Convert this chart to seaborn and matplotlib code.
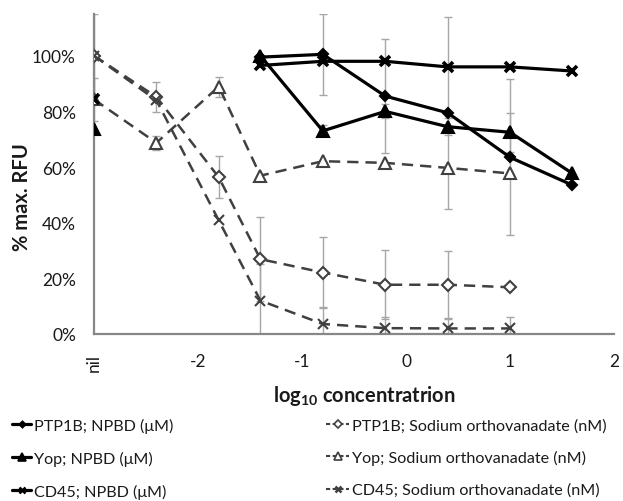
import numpy as np
import pandas as pd
import matplotlib
matplotlib.use("Agg")
import matplotlib.pyplot as plt
import seaborn as sns
from matplotlib.lines import Line2D
from matplotlib.ticker import FuncFormatter

nan = np.nan

# ---- data ----
x_tick_values = [-3, -2, -1, 0, 1, 2]
x_tick_labels = ["nil", "-2", "-1", "0", "1", "2"]
y_tick_values = [0, 0.2, 0.4, 0.6, 0.8, 1.0]

conc_sodium = [-3, -2.4, -1.8, -1.4, -0.8, -0.2, 0.4, 1.0]
conc_npbd = [-3, -1.4, -0.8, -0.2, 0.4, 1.0, 1.6]

ptp1b_npbd = [nan, 0.995, 1.005, 0.855, 0.795, 0.635, 0.535]
ptp1b_npbd_err = [0, 0, 0.145, 0.205, 0.345, 0.28, 0]
yop_npbd = [0.735, 1.0, 0.73, 0.80, 0.745, 0.725, 0.577]
yop_npbd_err = [0, 0, 0.02, 0.025, 0.03, 0.07, 0]
cd45_npbd = [0.843, 0.965, 0.98, 0.98, 0.96, 0.96, 0.945]
cd45_npbd_err = [0.076, 0, 0, 0, 0, 0, 0]

ptp1b_sov = [1.0, 0.852, 0.563, 0.269, 0.221, 0.177, 0.177, 0.168]
ptp1b_sov_err = [0.15, 0.054, 0.076, 0.15, 0.126, 0.124, 0.12, 0]
yop_sov = [0.843, 0.687, 0.889, 0.569, 0.621, 0.615, 0.597, 0.577]
yop_sov_err = [0, 0.025, 0.036, 0, 0, 0, 0, 0]
cd45_sov = [1.0, 0.84, 0.408, 0.12, 0.036, 0.021, 0.02, 0.02]
cd45_sov_err = [0, 0, 0, 0.13, 0.06, 0.04, 0.035, 0.04]

labels = [
    "PTP1B; NPBD (\u03bcM)",
    "Yop; NPBD (\u03bcM)",
    "CD45; NPBD (\u03bcM)",
    "PTP1B; Sodium orthovanadate (nM)",
    "Yop; Sodium orthovanadate (nM)",
    "CD45; Sodium orthovanadate (nM)",
]

# ---- style ----
sns.set_style("white")
plt.rcParams["font.family"] = ["Lato", "DejaVu Sans"]
plt.rcParams["mathtext.fontset"] = "custom"
plt.rcParams["mathtext.rm"] = "Lato:bold"
plt.rcParams["mathtext.bf"] = "Lato:bold"
plt.rcParams["mathtext.default"] = "bf"

W, H = 623, 502
fig = plt.figure(figsize=(W / 100, H / 100), dpi=100)
ax = fig.add_axes([94 / W, 1 - 335 / H, (614 - 94) / W, (335 - 15) / H])

BLACK = "#000000"
DGRAY = "#404040"
EGRAY = "#a6a6a6"
AXC = "#878787"
TXT = "#1a1a1a"

series = [
    dict(x=conc_npbd, y=ptp1b_npbd, e=ptp1b_npbd_err, c=BLACK, m="D", ms=5, mfc=BLACK, dash=False, lab=labels[0]),
    dict(x=conc_npbd, y=yop_npbd, e=yop_npbd_err, c=BLACK, m="^", ms=8, mfc=BLACK, dash=False, lab=labels[1]),
    dict(x=conc_npbd, y=cd45_npbd, e=cd45_npbd_err, c=BLACK, m="x", ms=7, mfc=BLACK, dash=False, lab=labels[2]),
    dict(x=conc_sodium, y=ptp1b_sov, e=ptp1b_sov_err, c=DGRAY, m="D", ms=6, mfc="white", dash=True, lab=labels[3]),
    dict(x=conc_sodium, y=yop_sov, e=yop_sov_err, c=DGRAY, m="^", ms=9, mfc="white", dash=True, lab=labels[4]),
    dict(x=conc_sodium, y=cd45_sov, e=cd45_sov_err, c=DGRAY, m="x", ms=7, mfc="white", dash=True, lab=labels[5]),
]

# error bars (behind)
for s in series:
    xs = np.array(s["x"], float)
    ys = np.array(s["y"], float)
    es = np.array(s["e"], float)
    ok = (~np.isnan(ys)) & (es > 0)
    ax.errorbar(xs[ok], ys[ok], yerr=es[ok], fmt="none", ecolor=EGRAY,
                elinewidth=1.0, capsize=3, capthick=1.0, zorder=1)

for i, s in enumerate(series):
    df = pd.DataFrame({"conc": s["x"], "val": s["y"]}).dropna()
    lw = 2.3 if not s["dash"] else 1.8
    mew = 1.5 if s["m"] != "x" else (2.6 if not s["dash"] else 1.5)
    kw = dict(color=s["c"], marker=s["m"], markersize=s["ms"], markerfacecolor=s["mfc"],
              markeredgecolor=s["c"], markeredgewidth=mew, linewidth=lw, ax=ax,
              sort=False, errorbar=None, zorder=3 + (0 if s["dash"] else 2))
    if s["dash"]:
        sns.lineplot(data=df, x="conc", y="val", dashes=False, linestyle=(0, (4.5, 2.8)), **kw)
    else:
        nil = df[df["conc"] == -3]
        rest = df[df["conc"] != -3]
        sns.lineplot(data=rest, x="conc", y="val", linestyle="-", **kw)
        if len(nil):
            sns.lineplot(data=nil, x="conc", y="val", linestyle="none", **kw)

# axes
ax.set_xlim(-3, 2)
ax.set_ylim(0, 1.15)
ax.set_xticks(x_tick_values)
ax.set_xticklabels(x_tick_labels)
ax.get_xticklabels()[0].set_rotation(90)
ax.set_yticks(y_tick_values)
ax.yaxis.set_major_formatter(FuncFormatter(lambda v, p: f"{v*100:.0f}%"))
for sp in ["top", "right"]:
    ax.spines[sp].set_visible(False)
for sp in ["left", "bottom"]:
    ax.spines[sp].set_color(AXC)
    ax.spines[sp].set_linewidth(1.6)
ax.tick_params(axis="both", colors=AXC, labelcolor=TXT, labelsize=12.5,
               width=1.3, length=5, direction="out")
ax.tick_params(axis="y", pad=8)
ax.tick_params(axis="x", pad=9)
ax.set_xlabel("")
ax.set_ylabel("")

fig.text(364 / W, 1 - 396 / H, r"log$_{10}$ concentratrion", ha="center", va="center",
         fontsize=14.5, fontweight="bold", color=TXT)
fig.text(22 / W, 1 - 197 / H, "% max. RFU", ha="center", va="center", rotation=90,
         fontsize=14.5, fontweight="bold", color=TXT)

# legends
def handle(s):
    lw = 2.3 if not s["dash"] else 1.5
    ls = "-" if not s["dash"] else (0, (2.0, 1.2))
    mew = 1.2 if s["m"] != "x" else 1.8
    return Line2D([0], [0], color=s["c"], linewidth=lw, linestyle=ls, marker=s["m"],
                  markersize=s["ms"] * 0.65, markerfacecolor=s["mfc"], markeredgecolor=s["c"],
                  markeredgewidth=mew)

common = dict(frameon=False, fontsize=11.6, handletextpad=0.15,
              labelspacing=1.1, borderpad=0, borderaxespad=0, numpoints=1,
              loc="upper left", labelcolor=TXT)
leg1 = fig.legend([handle(s) for s in series[:3]], labels[:3], handlelength=1.2,
                  bbox_to_anchor=(12 / W, 1 - 419 / H), **common)
leg2 = fig.legend([handle(s) for s in series[3:]], labels[3:], handlelength=1.45,
                  bbox_to_anchor=(326 / W, 1 - 419 / H), **common)

fig.savefig("out.png", dpi=100)
